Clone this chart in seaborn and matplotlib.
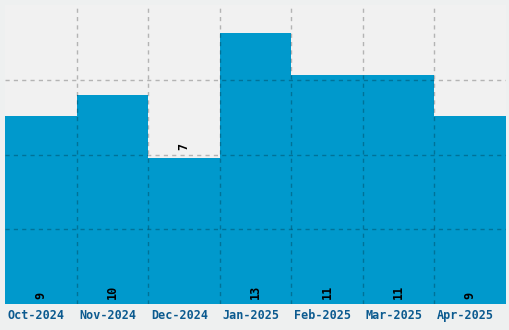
import matplotlib
matplotlib.use("Agg")
import matplotlib.pyplot as plt
import matplotlib.transforms as mtransforms
import seaborn as sns
import pandas as pd

months = ["Oct-2024", "Nov-2024", "Dec-2024", "Jan-2025", "Feb-2025", "Mar-2025", "Apr-2025"]
counts = [9, 10, 7, 13, 11, 11, 9]

df = pd.DataFrame({"month": months, "count": counts})

sns.set_theme(style="white")
plt.rcParams["font.family"] = ["DejaVu Sans Mono"]

fig = plt.figure(figsize=(5.1, 3.3), dpi=100, facecolor="#eef0f0")
ax = fig.add_axes([5/510, 26/330, 501/510, 299/330])
ax.set_facecolor("#f1f1f1")

sns.barplot(data=df, x="month", y="count", color="#0099cc", saturation=1,
            width=1.0, ax=ax, edgecolor="none", linewidth=0)

n = len(months)
ymax = max(counts) * 1.1026
ax.set_xlim(-0.5, n - 0.5)
ax.set_ylim(0, ymax)

for k in range(1, n):
    ax.axvline(k - 0.5, color="black", alpha=0.25, lw=1, ls=(0, (3, 3)), zorder=5)
for k in range(1, 4):
    ax.axhline(ymax * k / 4, color="black", alpha=0.25, lw=1, ls=(0, (3, 3)), zorder=5)

for i, v in enumerate(counts):
    if v < 8:
        ax.annotate(str(v), (i, v), xytext=(0, 5.5), textcoords="offset points",
                    rotation=90, ha="center", va="bottom", fontsize=8.5,
                    fontweight="bold", color="black", zorder=6)
    else:
        ax.annotate(str(v), (i, 0), xytext=(0, 3.5), textcoords="offset points",
                    rotation=90, ha="center", va="bottom", fontsize=8.5,
                    fontweight="bold", color="black", zorder=6)

ax.set_yticks([])
ax.set_xticks(range(n))
ax.set_xticklabels(months, fontsize=8.5, fontweight="bold", color="#0b5a8f")
ax.tick_params(axis="x", length=0, pad=3.5)
shift = mtransforms.ScaledTranslation(-4.5 / 100, 0, fig.dpi_scale_trans)
for lbl in ax.get_xticklabels():
    lbl.set_transform(lbl.get_transform() + shift)
ax.set_xlabel("")
ax.set_ylabel("")
for s in ax.spines.values():
    s.set_visible(False)

fig.savefig("out.png", dpi=100, facecolor=fig.get_facecolor())
